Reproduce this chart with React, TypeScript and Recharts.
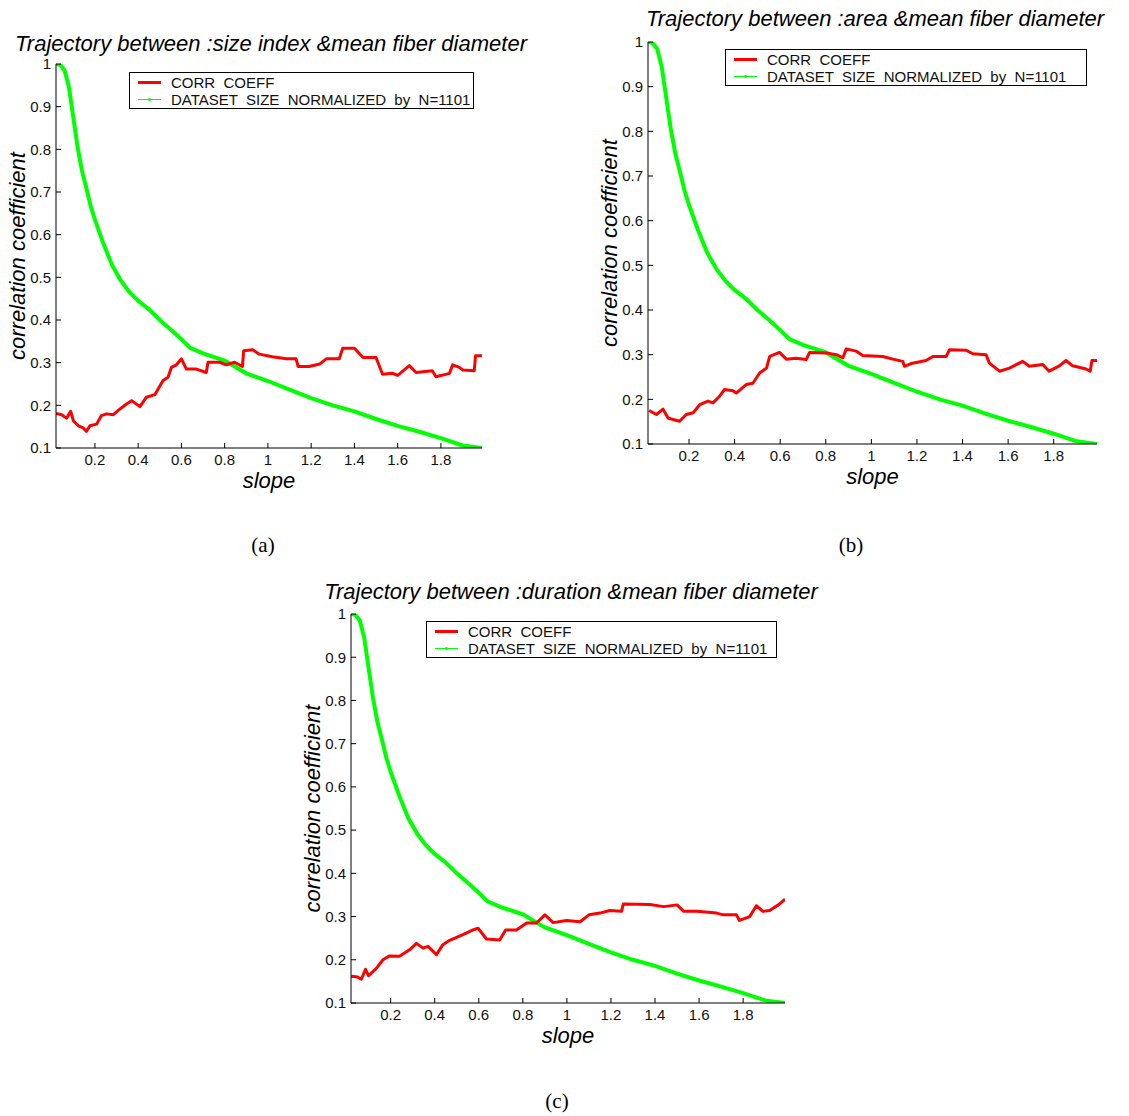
import { LineChart, Line, XAxis, YAxis, Legend } from "recharts"

const xTicks = [0.2, 0.4, 0.6, 0.8, 1, 1.2, 1.4, 1.6, 1.8]
const yTicks = [0.1, 0.2, 0.3, 0.4, 0.5, 0.6, 0.7, 0.8, 0.9, 1]

// dataset size normalized by N=1101 (same in all three panels)
const sizeSlope = [0.02, 0.04, 0.06, 0.08, 0.1, 0.12, 0.14, 0.16, 0.18, 0.2, 0.24, 0.28, 0.32, 0.36, 0.4, 0.45, 0.5, 0.55, 0.6, 0.64, 0.7, 0.8, 0.9, 1.0, 1.1, 1.2, 1.3, 1.4, 1.5, 1.6, 1.7, 1.8, 1.9, 1.99]
const sizeNorm = [1.0, 0.998, 0.985, 0.945, 0.875, 0.805, 0.75, 0.71, 0.668, 0.635, 0.578, 0.528, 0.492, 0.465, 0.445, 0.425, 0.4, 0.378, 0.355, 0.335, 0.322, 0.305, 0.275, 0.257, 0.237, 0.217, 0.2, 0.186, 0.168, 0.152, 0.138, 0.123, 0.106, 0.1]

// (a) size index
const slopeA = [0.02, 0.046, 0.069, 0.088, 0.1, 0.123, 0.146, 0.16, 0.177, 0.208, 0.23, 0.254, 0.285, 0.315, 0.346, 0.37, 0.408, 0.438, 0.477, 0.515, 0.538, 0.554, 0.577, 0.6, 0.623, 0.669, 0.715, 0.723, 0.777, 0.808, 0.846, 0.882, 0.888, 0.93, 0.96, 1.02, 1.085, 1.13, 1.14, 1.19, 1.24, 1.27, 1.33, 1.346, 1.4, 1.44, 1.5, 1.53, 1.577, 1.6, 1.654, 1.685, 1.76, 1.777, 1.84, 1.854, 1.885, 1.9, 1.954, 1.96, 1.99]
const corrA = [0.181, 0.178, 0.17, 0.186, 0.164, 0.152, 0.147, 0.139, 0.152, 0.156, 0.176, 0.18, 0.178, 0.191, 0.203, 0.211, 0.197, 0.219, 0.225, 0.258, 0.266, 0.289, 0.295, 0.309, 0.285, 0.285, 0.277, 0.301, 0.301, 0.295, 0.301, 0.291, 0.328, 0.33, 0.32, 0.314, 0.309, 0.309, 0.291, 0.291, 0.297, 0.309, 0.309, 0.334, 0.334, 0.312, 0.312, 0.273, 0.275, 0.27, 0.293, 0.277, 0.281, 0.267, 0.275, 0.295, 0.289, 0.283, 0.281, 0.316, 0.316]

// (b) area
const slopeB = [0.025, 0.057, 0.086, 0.108, 0.13, 0.159, 0.188, 0.218, 0.247, 0.283, 0.305, 0.334, 0.356, 0.393, 0.407, 0.451, 0.48, 0.51, 0.54, 0.554, 0.597, 0.627, 0.67, 0.714, 0.729, 0.802, 0.846, 0.875, 0.89, 0.933, 0.962, 1.05, 1.094, 1.138, 1.145, 1.18, 1.24, 1.27, 1.328, 1.343, 1.416, 1.445, 1.503, 1.518, 1.562, 1.606, 1.664, 1.693, 1.752, 1.78, 1.825, 1.854, 1.883, 1.942, 1.96, 1.968, 1.99]
const corrB = [0.175, 0.166, 0.178, 0.158, 0.155, 0.151, 0.166, 0.17, 0.188, 0.196, 0.192, 0.207, 0.222, 0.219, 0.214, 0.233, 0.236, 0.259, 0.27, 0.296, 0.305, 0.29, 0.292, 0.289, 0.305, 0.304, 0.3, 0.293, 0.313, 0.308, 0.298, 0.296, 0.29, 0.285, 0.274, 0.281, 0.287, 0.296, 0.296, 0.311, 0.31, 0.302, 0.3, 0.281, 0.263, 0.27, 0.285, 0.274, 0.278, 0.263, 0.275, 0.287, 0.275, 0.268, 0.263, 0.287, 0.287]

// (c) duration
const slopeC = [0.021, 0.05, 0.067, 0.086, 0.1, 0.135, 0.165, 0.195, 0.24, 0.286, 0.317, 0.347, 0.37, 0.408, 0.437, 0.468, 0.528, 0.574, 0.597, 0.635, 0.695, 0.722, 0.771, 0.817, 0.862, 0.9, 0.938, 0.998, 1.06, 1.1, 1.15, 1.195, 1.248, 1.256, 1.377, 1.44, 1.5, 1.53, 1.59, 1.68, 1.71, 1.77, 1.783, 1.83, 1.86, 1.89, 1.92, 1.96, 1.99]
const corrC = [0.162, 0.16, 0.155, 0.178, 0.163, 0.18, 0.2, 0.209, 0.208, 0.223, 0.238, 0.227, 0.231, 0.212, 0.235, 0.245, 0.258, 0.269, 0.273, 0.248, 0.246, 0.269, 0.269, 0.285, 0.285, 0.304, 0.286, 0.291, 0.288, 0.304, 0.308, 0.314, 0.312, 0.329, 0.328, 0.323, 0.327, 0.312, 0.312, 0.308, 0.304, 0.304, 0.291, 0.3, 0.325, 0.312, 0.314, 0.327, 0.34]

const toPoints = (xs: number[], ys: number[]) => xs.map((x, i) => ({ slope: x, value: ys[i] }))
const sizeData = toPoints(sizeSlope, sizeNorm)

const FONT = "'Liberation Sans', Arial, Helvetica, sans-serif"
const RED = "#ff0000"
const GREEN = "#00ff00"
const X_DOMAIN = [0.02, 1.99]

const fmt = (v: number) => String(+v.toFixed(1))

interface Box { left: number; top: number; right: number; bottom: number }

interface PanelProps {
	title: string
	titleX: number
	titleY: number
	caption: string
	captionX: number
	captionY: number
	box: Box
	legendLeft: number
	legendTop: number
	legendWidth: number
	corr: { slope: number; value: number }[]
}

const LegendBox = ({ width }: { width: number }) => (
	<div
		style={{
			width,
			height: 37,
			boxSizing: "border-box",
			border: "1px solid #000",
			background: "#fff",
			fontFamily: FONT,
			fontSize: 15,
			color: "#111",
			padding: "1px 0 0 7px",
			lineHeight: "17px",
			whiteSpace: "pre",
		}}
	>
		<div style={{ display: "flex", alignItems: "center" }}>
			<svg width={34} height={17}>
				<line x1={1} y1={8.5} x2={24} y2={8.5} stroke={RED} strokeWidth={3} />
			</svg>
			<span>CORR  COEFF</span>
		</div>
		<div style={{ display: "flex", alignItems: "center" }}>
			<svg width={34} height={17}>
				<line x1={1} y1={8.5} x2={24} y2={8.5} stroke={GREEN} strokeWidth={1} />
				<circle cx={12.5} cy={8.5} r={1.5} fill={GREEN} />
			</svg>
			<span>DATASET  SIZE  NORMALIZED  by  N=1101</span>
		</div>
	</div>
)

const YLabel = ({ viewBox }: any) => {
	const cx = viewBox.x + viewBox.width - 39
	const cy = viewBox.y + viewBox.height / 2
	return (
		<text
			x={cx}
			y={cy}
			transform={`rotate(-90 ${cx} ${cy})`}
			textAnchor="middle"
			dominantBaseline="central"
			fontFamily={FONT}
			fontStyle="italic"
			fontSize={22}
			fill="#000"
		>
			correlation coefficient
		</text>
	)
}

const XLabel = ({ viewBox }: any) => (
	<text
		x={viewBox.x + viewBox.width / 2}
		y={viewBox.y + 32}
		textAnchor="middle"
		dominantBaseline="central"
		fontFamily={FONT}
		fontStyle="italic"
		fontSize={22}
		fill="#000"
	>
		slope
	</text>
)

const Panel = ({ title, titleX, titleY, caption, captionX, captionY, box, legendLeft, legendTop, legendWidth, corr }: PanelProps) => {
	const padL = 60
	const padT = 10
	const padR = 12
	const padB = 50
	const left = box.left - padL
	const top = box.top - padT
	const width = box.right - box.left + padL + padR
	const height = box.bottom - box.top + padT + padB
	const tickStyle = { fontFamily: FONT, fontSize: 15, fill: "#111" }
	return (
		<>
			<div
				style={{
					position: "absolute",
					left: titleX - 350,
					top: titleY - 13,
					width: 700,
					textAlign: "center",
					fontFamily: FONT,
					fontStyle: "italic",
					fontSize: 22,
					lineHeight: "26px",
					whiteSpace: "nowrap",
				}}
			>
				{title}
			</div>
			<div style={{ position: "absolute", left, top }}>
				<LineChart width={width} height={height} margin={{ top: padT, right: padR, bottom: 0, left: 0 }}>
					<XAxis
						xAxisId="b"
						type="number"
						dataKey="slope"
						domain={X_DOMAIN}
						ticks={xTicks}
						tickFormatter={fmt}
						allowDataOverflow
						height={padB}
						tickSize={-5}
						tickMargin={11}
						tick={tickStyle}
						stroke="#000"
						label={<XLabel />}
					/>
					<XAxis
						xAxisId="t"
						orientation="top"
						type="number"
						dataKey="slope"
						domain={X_DOMAIN}
						ticks={xTicks}
						tickFormatter={() => ""}
						allowDataOverflow
						height={0}
						tickSize={-5}
						stroke="#000"
					/>
					<YAxis
						yAxisId="l"
						type="number"
						domain={[0.1, 1]}
						ticks={yTicks}
						tickFormatter={fmt}
						allowDataOverflow
						width={padL}
						tickSize={-5}
						tickMargin={10}
						tick={tickStyle}
						stroke="#000"
						label={<YLabel />}
					/>
					<YAxis
						yAxisId="r"
						orientation="right"
						type="number"
						domain={[0.1, 1]}
						ticks={yTicks}
						tickFormatter={() => ""}
						allowDataOverflow
						width={0}
						tickSize={-5}
						stroke="#000"
					/>
					<Legend
						layout="horizontal"
						verticalAlign="middle"
						content={() => <LegendBox width={legendWidth} />}
						wrapperStyle={{ position: "absolute", left: legendLeft - left, top: legendTop - top, width: "auto", bottom: "auto" }}
					/>
					<Line
						xAxisId="b"
						yAxisId="l"
						data={sizeData}
						dataKey="value"
						stroke={GREEN}
						strokeWidth={4}
						dot={false}
						isAnimationActive={false}
					/>
					<Line
						xAxisId="b"
						yAxisId="l"
						data={corr}
						dataKey="value"
						stroke={RED}
						strokeWidth={3}
						strokeLinejoin="round"
						dot={false}
						isAnimationActive={false}
					/>
				</LineChart>
			</div>
			<div
				style={{
					position: "absolute",
					left: captionX - 30,
					top: captionY - 13,
					width: 60,
					textAlign: "center",
					fontFamily: "'Liberation Serif', 'DejaVu Serif', serif",
					fontSize: 21,
					lineHeight: "26px",
				}}
			>
				{caption}
			</div>
		</>
	)
}

export default function App() {
	return (
		<div style={{ position: "absolute", left: 0, top: 0, width: 1129, height: 1116, background: "#fff" }}>
			<Panel
				title="Trajectory between :size index &mean fiber diameter"
				titleX={271}
				titleY={44}
				caption="(a)"
				captionX={263}
				captionY={545}
				box={{ left: 56, top: 64, right: 482, bottom: 448 }}
				legendLeft={129}
				legendTop={72}
				legendWidth={345}
				corr={toPoints(slopeA, corrA)}
			/>
			<Panel
				title="Trajectory between :area &mean fiber diameter"
				titleX={875}
				titleY={19}
				caption="(b)"
				captionX={851}
				captionY={545}
				box={{ left: 648, top: 42, right: 1097, bottom: 444 }}
				legendLeft={725}
				legendTop={49}
				legendWidth={362}
				corr={toPoints(slopeB, corrB)}
			/>
			<Panel
				title="Trajectory between :duration &mean fiber diameter"
				titleX={571}
				titleY={592}
				caption="(c)"
				captionX={557}
				captionY={1101}
				box={{ left: 351, top: 614, right: 785, bottom: 1003 }}
				legendLeft={426}
				legendTop={621}
				legendWidth={351}
				corr={toPoints(slopeC, corrC)}
			/>
		</div>
	)
}
